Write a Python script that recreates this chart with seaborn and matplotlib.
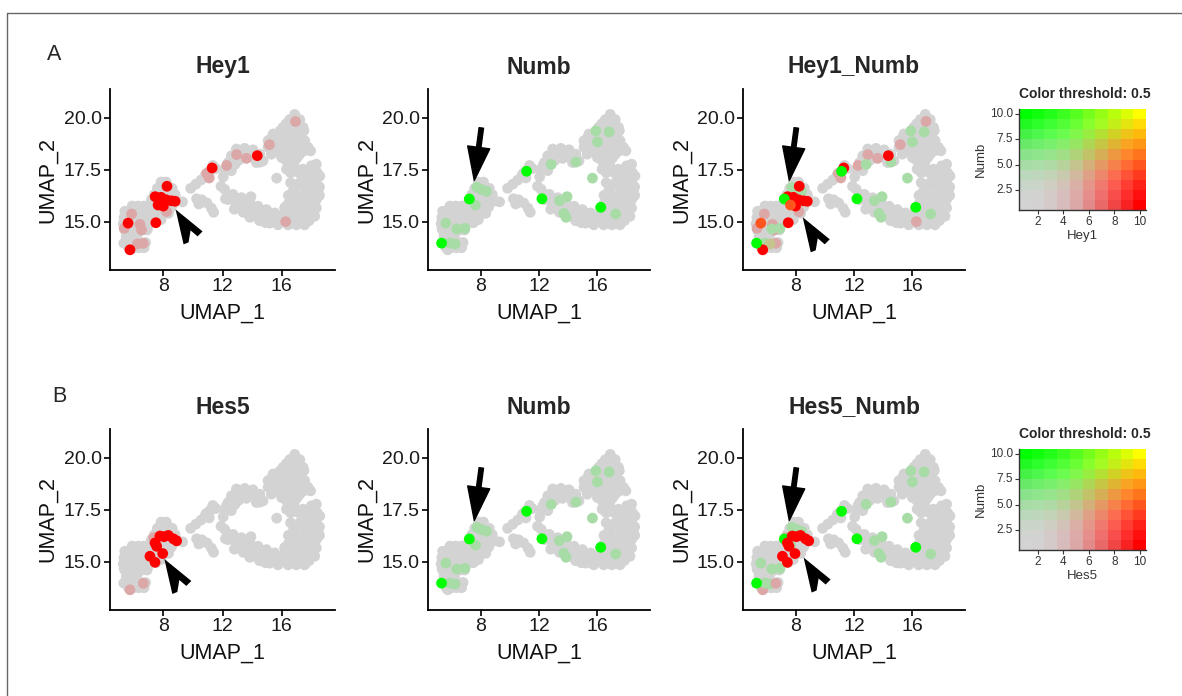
import numpy as np
import pandas as pd
import matplotlib
matplotlib.use("Agg")
import matplotlib.pyplot as plt
import seaborn as sns
from matplotlib.colors import ListedColormap, to_hex
from matplotlib.patches import Polygon
from matplotlib.transforms import ScaledTranslation
from matplotlib.lines import Line2D

sns.set_style("ticks")
plt.rcParams["font.family"] = ["Liberation Sans", "DejaVu Sans"]

# ---- UMAP coordinates of cells with no expression (grey everywhere) ----
grey_umap1 = [
    # lower-left cluster
    5.9, 6.3, 6.7, 5.4, 5.75, 6.1, 6.5, 6.9, 5.35, 5.7, 6.05, 6.4, 6.8, 7.1,
    5.3, 5.65, 6.0, 6.35, 6.7, 5.4, 5.75, 6.1, 6.55, 6.9, 5.5, 5.85, 6.2,
    5.45, 5.8, 6.1, 6.45, 6.8, 5.65, 6.0, 6.35, 6.7,
    # cluster around UMAP_1 = 8
    7.85, 8.2, 7.6, 7.95, 8.3, 8.6, 7.4, 7.75, 8.1, 8.45, 8.8,
    7.2, 7.55, 7.9, 8.25, 8.6, 8.95, 7.15, 7.5, 7.85, 8.2, 8.55,
    7.3, 7.65, 8.0, 8.35, 7.5, 7.85, 9.3,
    # bridge
    9.85, 10.2, 10.55, 10.85, 11.15, 11.35, 11.55, 10.25, 10.6, 10.95, 11.25, 11.4, 10.4,
    # upper arm of the loop
    12.05, 12.15, 12.6, 12.38, 12.83, 12.6, 13.28, 13.95, 12.94, 13.5, 14.06, 14.52, 14.29, 14.74,
    13.6, 13.1,
    # upper-right blob
    16.88, 16.54, 17.22, 16.09, 16.77, 17.44, 15.42, 15.98, 16.65, 17.33,
    15.08, 15.64, 16.32, 16.99, 17.55, 15.08, 15.75, 16.43, 17.1, 17.78,
    15.3, 15.98, 16.54, 17.22, 16.32, 16.88, 17.95,
    16.3, 16.95, 16.35, 17.0, 17.5, 15.35, 15.95, 16.6, 17.2,
    15.4, 16.1, 16.75, 17.4, 15.6, 16.2, 16.85, 17.5, 16.0, 16.65, 17.05,
    # right column
    16.32, 16.88, 17.44, 18.0, 18.34, 17.55, 18.12, 18.57, 16.6, 17.22, 17.78, 18.34,
    16.77, 17.89, 18.46, 16.65, 17.22, 17.78, 18.34, 16.2, 16.77, 17.33, 17.89, 18.34,
    15.98, 16.54, 17.1, 17.67, 18.23, 16.43, 16.99, 17.55,
    16.6, 17.15, 17.85, 18.4, 16.95, 17.5, 18.1, 18.55, 16.45, 17.0, 17.5, 18.05, 18.55,
    16.45, 17.0, 17.6, 18.15, 16.3, 16.85, 17.4, 17.95, 16.7, 17.3, 17.85,
    # bottom arc
    12.15, 12.71, 13.28, 13.84, 14.4, 14.97, 15.53, 12.38, 12.94, 13.5, 14.06, 14.63,
    15.19, 15.75, 12.6, 13.15, 13.7, 14.25, 14.8, 15.4, 11.9,
    12.8, 13.4, 13.95, 14.5, 14.9, 15.55, 16.0,
]
grey_umap2 = [
    15.75, 15.75, 15.75, 15.5, 15.5, 15.5, 15.5, 15.5, 15.2, 15.2, 15.2, 15.2, 15.2, 15.2,
    14.9, 14.9, 14.9, 14.9, 14.9, 14.6, 14.6, 14.6, 14.6, 14.6, 14.3, 14.3, 14.3,
    14.0, 14.0, 14.0, 14.0, 14.0, 13.75, 13.75, 13.75, 13.75,
    16.9, 16.9, 16.6, 16.6, 16.6, 16.6, 16.3, 16.3, 16.3, 16.3, 16.3,
    16.0, 16.0, 16.0, 16.0, 16.0, 16.0, 15.7, 15.7, 15.7, 15.7, 15.7,
    15.4, 15.4, 15.4, 15.4, 15.1, 15.1, 15.95,
    16.6, 16.8, 17.0, 17.25, 17.45, 17.7, 17.55, 16.1, 16.05, 15.9, 15.65, 15.45, 15.85,
    17.15, 17.5, 17.45, 17.84, 17.76, 18.16, 18.16, 18.13, 18.49, 18.52, 18.45, 18.24, 17.84, 17.92,
    18.35, 17.95,
    20.15, 19.9, 19.9, 19.53, 19.53, 19.53, 19.21, 19.21, 19.21, 19.21,
    18.89, 18.89, 18.89, 18.89, 18.89, 18.57, 18.57, 18.57, 18.57, 18.57,
    18.24, 18.24, 18.24, 18.24, 17.92, 17.92, 18.4,
    19.7, 19.7, 19.37, 19.37, 19.37, 19.05, 19.05, 19.05, 19.05,
    18.73, 18.73, 18.73, 18.73, 18.4, 18.4, 18.4, 18.4, 18.08, 18.08, 18.08,
    17.52, 17.6, 17.52, 17.68, 17.76, 17.19, 17.19, 17.19, 16.87, 16.87, 16.87, 16.87,
    16.47, 16.47, 16.47, 16.06, 16.06, 16.06, 16.06, 15.66, 15.66, 15.66, 15.66, 15.66,
    15.26, 15.26, 15.26, 15.26, 15.26, 14.85, 14.85, 14.85,
    17.35, 17.35, 17.35, 17.35, 16.67, 16.67, 16.67, 16.67, 16.26, 16.26, 16.26, 16.26, 16.26,
    15.86, 15.86, 15.86, 15.86, 15.46, 15.46, 15.46, 15.46, 15.05, 15.05, 15.05,
    16.55, 16.31, 16.15, 15.98, 15.74, 15.58, 15.42, 16.06, 15.82, 15.66, 15.42, 15.18,
    14.93, 14.85, 16.25, 16.0, 15.85, 15.6, 15.38, 15.15, 16.7,
    15.6, 15.45, 15.25, 15.05, 14.95, 15.0, 15.1,
]

# ---- cells expressing at least one gene (binned level 0-9) ----
cell_umap1 = [5.62, 5.75, 7.5, 8.25, 7.45, 7.85, 8.2, 8.55, 8.8, 7.65, 8.0, 11.3, 14.35,
              5.36, 5.86, 6.42, 6.53, 6.25, 6.65, 8.23, 10.93, 11.1, 12.95, 13.62, 12.28,
              15.17, 16.93, 16.27,
              5.33, 7.23, 11.15, 12.2, 16.23, 6.37, 6.93, 5.9, 7.75, 8.41, 8.05, 12.83,
              14.53, 15.66, 13.4, 13.92, 13.85, 13.7, 15.89, 16.8, 16.0, 17.25,
              7.44, 7.77, 8.05, 8.34, 8.68, 8.9, 7.55, 7.96, 7.1, 7.44, 7.35]
cell_umap2 = [14.93, 13.65, 14.95, 16.7, 16.2, 16.17, 16.05, 16.0, 15.98, 15.8, 15.75, 17.58, 18.17,
              14.68, 15.37, 14.87, 14.6, 13.93, 13.96, 15.48, 17.32, 17.1, 18.22, 18.04, 17.7,
              18.7, 19.81, 15.0,
              13.97, 16.09, 17.42, 16.1, 15.69, 14.65, 14.68, 13.97, 16.65, 16.46, 16.55, 17.75,
              17.86, 17.09, 16.01, 16.2, 15.21, 15.4, 19.36, 19.31, 18.83, 15.37,
              15.9, 16.23, 16.2, 16.26, 16.1, 16.0, 15.74, 15.39, 15.26, 14.97, 16.15]
hey1_lvl = [9, 9, 9, 9, 9, 9, 9, 9, 9, 9, 9, 9, 9,
            4, 4, 4, 4, 4, 4, 4, 4, 4, 4, 4, 4, 4, 4, 4,
            0, 0, 0, 0, 0, 0, 0, 0, 0, 0, 0, 0, 0, 0, 0, 0, 0, 0, 0, 0, 0, 0,
            0, 0, 0, 0, 0, 0, 0, 0, 0, 0, 0]
numb_lvl = [4, 0, 0, 0, 0, 0, 0, 0, 0, 4, 0, 0, 0,
            0, 0, 0, 0, 4, 0, 0, 0, 0, 0, 0, 0, 0, 0, 0,
            9, 9, 9, 9, 9, 4, 4, 4, 4, 4, 4, 4, 4, 4, 4, 4, 4, 4, 4, 4, 4, 4,
            0, 0, 0, 0, 0, 0, 0, 0, 0, 0, 0]
hes5_lvl = [0, 4, 0, 0, 0, 0, 0, 0, 0, 0, 0, 0, 0,
            0, 0, 0, 0, 0, 4, 0, 0, 0, 0, 0, 0, 0, 0, 0,
            0, 0, 0, 0, 0, 0, 0, 0, 0, 0, 0, 0, 0, 0, 0, 0, 0, 0, 0, 0, 0, 0,
            9, 9, 9, 9, 9, 9, 9, 9, 9, 9, 4]

x_ticks = [8, 12, 16]
y_ticks = [15.0, 17.5, 20.0]
key_x_ticks = [2, 4, 6, 8, 10]
key_y_ticks = [2.5, 5.0, 7.5, 10.0]

# arrow annotations (data coordinates)
down_arrow = {"tail": (8.05, 19.5), "tip": (7.57, 16.98)}
head_tips = {"Hey1": (8.83, 15.59), "Hey1_Numb": (8.49, 15.21),
             "Hes5": (8.07, 15.13), "Hes5_Numb": (8.55, 15.2)}

# ---- build the cell table ----
n_grey = len(grey_umap1)
cells = pd.DataFrame({
    "UMAP_1": grey_umap1 + cell_umap1,
    "UMAP_2": grey_umap2 + cell_umap2,
    "Hey1": [0] * n_grey + hey1_lvl,
    "Numb": [0] * n_grey + numb_lvl,
    "Hes5": [0] * n_grey + hes5_lvl,
})

# Seurat-style blend matrix (negative = lightgrey, red / green, threshold 0.5)
C0 = np.array([211.0, 211.0, 211.0])
C1 = np.array([255.0, 0.0, 0.0])
C2 = np.array([0.0, 255.0, 0.0])


def sigmoid(v):
    return 1 / (1 + np.exp(-v))


def blend_color(i, j, n=10, thr=0.5):
    cmin = sigmoid(5 * (1 / n - thr))
    cmax = sigmoid(5 * (1 - thr))
    w1 = (sigmoid(5 * (i / n - thr)) - cmin) / (cmax - cmin)
    w2 = (sigmoid(5 * (j / n - thr)) - cmin) / (cmax - cmin)
    w0 = (sigmoid(5 * ((i + j) / (2 * n) - thr)) - cmin) / (cmax - cmin)
    c = ((C1 - C0) * w1 * (i - 1) / (n - 1) + (C2 - C0) * w2 * (j - 1) / (n - 1)
         + (i - 1) * (j - 1) * w0 * C0 / (n - 1) ** 2 + C0)
    return to_hex(np.clip(c, 0, 255) / 255)


W, H = 1182, 696
fig = plt.figure(figsize=(W / 100, H / 100), dpi=100)


def px_box(left, top, right, bottom):
    return [left / W, 1 - bottom / H, (right - left) / W, (bottom - top) / H]


def feature_panel(ax, red_gene, green_gene, title, title_x, title_y):
    d = cells.copy()
    a = d[red_gene] if red_gene else pd.Series(0, index=d.index)
    b = d[green_gene] if green_gene else pd.Series(0, index=d.index)
    d["color"] = [blend_color(p + 1, q + 1) for p, q in zip(a, b)]
    d["order"] = a + b
    d = d.sort_values("order", kind="stable")
    pal = {c: c for c in d["color"].unique()}
    sns.scatterplot(data=d, x="UMAP_1", y="UMAP_2", hue="color", palette=pal,
                    s=60, linewidth=0, legend=False, ax=ax)
    sns.despine(ax=ax)
    for s in ["left", "bottom"]:
        ax.spines[s].set_linewidth(1.3)
        ax.spines[s].set_color("black")
    ax.set_xticks(x_ticks)
    ax.set_yticks(y_ticks)
    ax.set_yticklabels([f"{v:.1f}" for v in y_ticks])
    ax.tick_params(length=4, width=1.2, color="black", labelsize=14,
                   labelcolor="#1a1a1a", pad=2)
    ax.set_xlabel("UMAP_1", fontsize=15.5, color="#111")
    ax.set_ylabel("UMAP_2", fontsize=15.5, color="#111")
    ax.xaxis.label.set_va("center")
    ax.yaxis.label.set_va("center")
    ax.xaxis.set_label_coords(0.5, -43 / 181)
    ax.yaxis.set_label_coords(-62 / 224, 0.5)
    fig.text(title_x / W, 1 - title_y / H, title, fontsize=16.5, fontweight="bold",
             ha="center", va="center")


def add_down_arrow(ax):
    ax.annotate("", xy=down_arrow["tip"], xytext=down_arrow["tail"],
                arrowprops=dict(width=3.2, headwidth=16, headlength=24,
                                facecolor="black", edgecolor="black", shrink=0))


def add_head(ax, tip):
    # notched arrowhead, offsets in pixels from the tip (y down)
    shape = [(0, 0), (8, 35), (13, 33), (15, 21), (22, 27), (27, 22)]
    verts = [(x / 100, -y / 100) for x, y in shape]
    trans = fig.dpi_scale_trans + ScaledTranslation(tip[0], tip[1], ax.transData)
    ax.add_patch(Polygon(verts, closed=True, transform=trans, facecolor="black",
                         edgecolor="none", clip_on=False))


def key_panel(ax, gene, title_y):
    n = 10
    blend_hex = [blend_color(i, j) for j in range(1, n + 1) for i in range(1, n + 1)]
    grid = np.arange(n * n).reshape(n, n)
    sns.heatmap(grid, cmap=ListedColormap(blend_hex), vmin=-0.5, vmax=n * n - 0.5,
                cbar=False, ax=ax)
    ax.invert_yaxis()
    for s in ["left", "bottom"]:
        ax.spines[s].set_visible(True)
        ax.spines[s].set_color("#333333")
        ax.spines[s].set_linewidth(1.0)
    ax.set_xticks([t - 0.5 for t in key_x_ticks])
    ax.set_xticklabels([str(t) for t in key_x_ticks], rotation=0)
    ax.set_yticks([t - 0.5 for t in key_y_ticks])
    ax.set_yticklabels([f"{t:.1f}" for t in key_y_ticks], rotation=0)
    ax.tick_params(length=3, width=0.8, color="#333333", labelsize=8.5,
                   labelcolor="#333333", pad=1.5, bottom=True, left=True)
    ax.set_xlabel(gene, fontsize=9.5, color="#333333", labelpad=1)
    ax.set_ylabel("Numb", fontsize=9.5, color="#333333", labelpad=2)
    fig.text(1085 / W, 1 - title_y / H, "Color threshold: 0.5", fontsize=10,
             fontweight="bold", ha="center", va="center")


rows = [
    {"dy": 0, "gene": "Hey1", "label": "A", "label_xy": (54, 55)},
    {"dy": 340, "gene": "Hes5", "label": "B", "label_xy": (59, 396)},
]
cols = [(110, 335), (428, 650), (743, 965)]

for row in rows:
    dy = row["dy"]
    g = row["gene"]
    panels = [(g, None, g), (None, "Numb", "Numb"), (g, "Numb", f"{g}_Numb")]
    for (left, right), (rg, gg, title) in zip(cols, panels):
        ax = fig.add_axes(px_box(left, 89 + dy, right, 270 + dy))
        feature_panel(ax, rg, gg, title, (left + right) / 2, 67 + dy)
        if gg == "Numb":
            add_down_arrow(ax)
        if title in head_tips:
            add_head(ax, head_tips[title])
        ax.set_xlim(4.4, 19.6)
        ax.set_ylim(12.68, 21.37)
    kax = fig.add_axes(px_box(1019, 109 + dy, 1146, 210 + dy))
    key_panel(kax, g, 94 + dy)
    lx, ly = row["label_xy"]
    fig.text(lx / W, 1 - ly / H, row["label"], fontsize=15.5, ha="center", va="center")

# thin frame around the figure
fig.add_artist(Line2D([7 / W, 7 / W], [0, 1 - 13 / H], color="#666666", lw=1))
fig.add_artist(Line2D([7 / W, 1], [1 - 13 / H, 1 - 13 / H], color="#666666", lw=1))

fig.savefig("out.png", dpi=100)
